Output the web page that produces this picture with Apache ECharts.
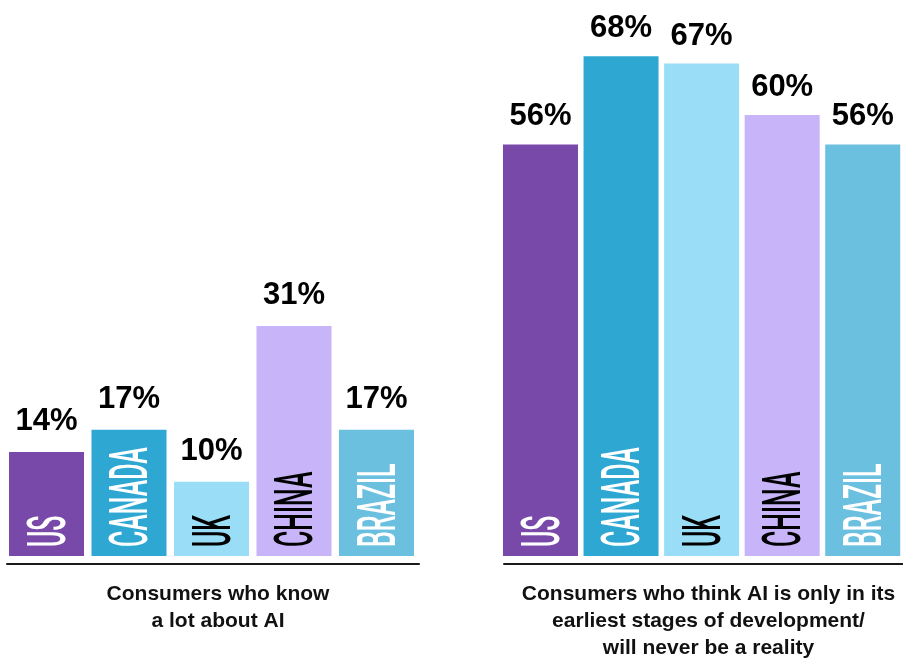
<!DOCTYPE html>
<html><head><meta charset="utf-8">
<script src="https://cdn.jsdelivr.net/npm/echarts@6/dist/echarts.min.js"></script>
<style>html,body{margin:0;padding:0;background:#fff}#c{width:903px;height:660px}</style>
</head><body><div id="c"></div>
<script>
const countries = ['US', 'CANADA', 'UK', 'CHINA', 'BRAZIL'];
const knowALot = [14, 17, 10, 31, 17];
const earlyStages = [56, 68, 67, 60, 56];
const barColors = ['#7849A8', '#2EA8D2', '#99DEF6', '#C8B4F8', '#6CC0DF'];
const nameColors = ['#ffffff', '#ffffff', '#000000', '#000000', '#ffffff'];
const chartTitles = [
  'Consumers who know\na lot about AI',
  'Consumers who think AI is only in its\nearliest stages of development/\nwill never be a reality'
];

const chart = echarts.init(document.getElementById('c'), null, {renderer: 'canvas'});
const valueFont = {fontFamily: '"Liberation Sans", Arial, sans-serif', fontWeight: 'bold', fontSize: 31, color: '#000'};

function barSeries(idx, values, dist) {
  return {
    type: 'bar', xAxisIndex: idx, yAxisIndex: idx, barWidth: 75, silent: true,
    data: values.map((v, i) => ({value: v, itemStyle: {color: barColors[i]}})),
    label: Object.assign({show: true, position: 'top', distance: dist, formatter: '{c}%'}, valueFont)
  };
}
function nameSeries(idx) {
  return {
    type: 'custom', xAxisIndex: idx, yAxisIndex: idx, z: 5, silent: true, clip: false,
    data: countries.map((c, i) => [i, 0]),
    renderItem: function (params, api) {
      const i = params.dataIndex;
      const p = api.coord([api.value(0), 0]);
      return {
        type: 'text', x: p[0] + 5, y: p[1] - 9, rotation: Math.PI / 2, scaleX: 0.47,
        style: {text: countries[i], fontSize: 53, fontFamily: 'Roboto, sans-serif', fontWeight: 500,
          fill: nameColors[i], align: 'left', verticalAlign: 'middle'}
      };
    }
  };
}
const titleStyle = {fontFamily: '"Liberation Sans", Arial, sans-serif', fontWeight: 'bold', fontSize: 21, lineHeight: 27, color: '#111'};

chart.setOption({
  animation: false,
  title: [
    {text: chartTitles[0], left: 218, top: 581, textAlign: 'center', padding: 0, textStyle: titleStyle},
    {text: chartTitles[1], left: 708.5, top: 581, textAlign: 'center', padding: 0, textStyle: titleStyle}
  ],
  grid: [
    {left: 5.25, width: 412.5, top: 36.6, bottom: 104},
    {left: 500.2, width: 413.3, top: 41.5, bottom: 104},
    {left: 7, width: 412, top: 500, bottom: 96},
    {left: 504, width: 420, top: 500, bottom: 96}
  ],
  xAxis: [
    {gridIndex: 0, type: 'category', data: countries, show: false},
    {gridIndex: 1, type: 'category', data: countries, show: false},
    {gridIndex: 2, type: 'category', data: countries, axisLine: {lineStyle: {color: '#1a1a1a', width: 2}}, axisTick: {show: false}, axisLabel: {show: false}},
    {gridIndex: 3, type: 'category', data: countries, axisLine: {lineStyle: {color: '#1a1a1a', width: 2}}, axisTick: {show: false}, axisLabel: {show: false}}
  ],
  yAxis: [
    {gridIndex: 0, type: 'value', min: 0, max: 70, show: false},
    {gridIndex: 1, type: 'value', min: 0, max: 70, show: false},
    {gridIndex: 2, type: 'value', show: false},
    {gridIndex: 3, type: 'value', show: false}
  ],
  series: [
    barSeries(0, knowALot, 15),
    barSeries(1, earlyStages, 12),
    nameSeries(0),
    nameSeries(1)
  ]
});
</script>
</body></html>
